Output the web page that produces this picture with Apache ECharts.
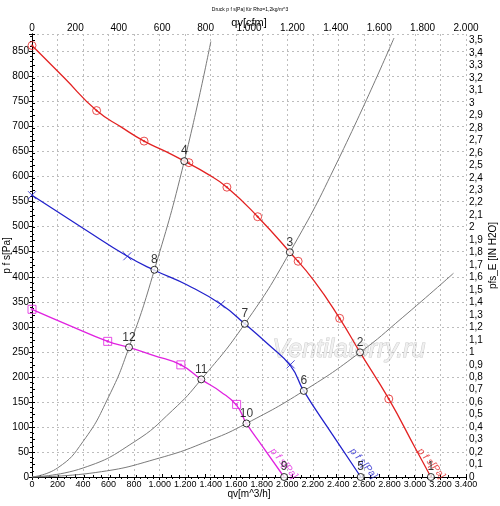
<!DOCTYPE html>
<html>
<head>
<meta charset="utf-8">
<script src="https://cdn.jsdelivr.net/npm/echarts@6/dist/echarts.min.js"></script>
<style>
html, body { margin: 0; padding: 0; background: #fff; }
#main { width: 500px; height: 506px; }
</style>
</head>
<body>
<div id="main"></div>
<script>
// 风机曲线 [qv m^3/h, p Pa]
var redCurve = [[0,862],[250,798],[506,732],[700,699],[878,671],[1050,650],[1193,631],[1370,606],[1527,579],[1768,520],[2020,449],[2210,392],[2410,317],[2570,249],[2795,156],[3000,59],[3125,0]];
var blueCurve = [[0,563],[400,497],[747,441],[959,413],[1220,383],[1480,345],[1667,306],[1850,265],[2026,222],[2129,172],[2350,86],[2576,0]];
var pinkCurve = [[0,335],[300,302],[593,271],[760,259],[950,243],[1166,224],[1326,195],[1480,170],[1603,143],[1680,107],[1800,63],[1975,0]];

// 曲线上的标记
var redMarks = [[0,862],[506,732],[878,671],[1229,628],[1527,579],[1768,520],[2085,431],[2410,317],[2795,156]];
var blueMarks = [[0,563],[747,441],[1480,345],[2026,225]];
var pinkMarks = [[0,335],[593,271],[1166,224],[1603,145]];

// 系统曲线 (灰色)
var sysCurve1 = [[0,0],[200,18],[400,71],[600,160],[760,259],[959,414],[1193,631],[1401,870]];
var sysCurve2 = [[0,0],[400,18],[800,70],[1100,133],[1326,195],[1667,306],[2020,449],[2400,634],[2836,877]];
var sysCurve3 = [[0,0],[500,9],[1000,38],[1400,74],[1680,107],[2129,172],[2570,249],[2900,318],[3302,407]];

// 工作点
var opNames = ['1','2','3','4','5','6','7','8','9','10','11','12'];
var opPoints = [[3125,0],[2570,249],[2020,449],[1193,631],[2575,0],[2129,172],[1667,306],[959,414],[1975,0],[1680,107],[1326,195],[760,259]];

// 曲线文字
var curveLabelText = 'p f s[Pa]';
var curveLabelPos = [[1972,27],[2597,27],[3127,27]];

var qMax = 3400, cfmMax = 2000, pMax = 885, paPerInH2O = 249.089;
var RED = '#e32222', BLUE = '#2222cc', PINK = '#e022e0', GRAY = '#7a7a7a';
var FONT = 'Liberation Sans';

function thousands(v) {
    v = Math.round(v);
    if (v < 1000) return String(v);
    var r = String(v % 1000);
    while (r.length < 3) r = '0' + r;
    return Math.floor(v / 1000) + '.' + r;
}

function lineSeries(data, color, w) {
    return {
        type: 'line', data: data, smooth: 0.5,
        symbol: 'none', silent: true, z: 3,
        lineStyle: { color: color, width: w }
    };
}

function markSeries(data, color, path, size) {
    return {
        type: 'scatter', data: data, symbol: path, symbolSize: size,
        silent: true, z: 4,
        itemStyle: { color: 'transparent', borderColor: color, borderWidth: 1 }
    };
}

var myChart = echarts.init(document.getElementById('main'));

var axisLabelStyle = { color: '#000', fontSize: 10, fontFamily: FONT };
var axisLineStyle = { lineStyle: { color: '#000', width: 1 } };

var option = {
    backgroundColor: '#fff',
    animation: false,
    title: {
        text: 'Druck p f s[Pa] für Rho=1,2kg/m^3',
        left: 'center', top: 2,
        textStyle: { fontSize: 5, fontWeight: 'normal', color: '#000', fontFamily: FONT }
    },
    grid: { left: 32, right: 34, top: 34, bottom: 29, outerBoundsMode: 'none', containLabel: false },
    xAxis: [{
        type: 'value', position: 'bottom', min: 0, max: qMax, interval: 200,
        name: 'qv[m^3/h]', nameLocation: 'middle', nameGap: 12, nameMoveOverlap: false,
        nameTextStyle: { color: '#000', fontSize: 10, fontFamily: FONT },
        axisLine: axisLineStyle,
        axisTick: { length: 3, lineStyle: { color: '#000' } },
        minorTick: { show: true, splitNumber: 4, length: 2, lineStyle: { color: '#000' } },
        axisLabel: { margin: 3, formatter: thousands, color: '#000', fontSize: 9, fontFamily: FONT },
        splitLine: { show: true, lineStyle: { color: '#bdbdbd', type: [2, 3] } }
    }, {
        type: 'value', position: 'top', min: 0, max: cfmMax, interval: 200,
        name: 'qv[cfm]', nameLocation: 'middle', nameGap: 6, nameMoveOverlap: false,
        nameTextStyle: { color: '#000', fontSize: 11, fontFamily: FONT },
        axisLine: axisLineStyle,
        axisTick: { length: 3, lineStyle: { color: '#000' } },
        minorTick: { show: true, splitNumber: 5, length: 2, lineStyle: { color: '#000' } },
        axisLabel: Object.assign({ margin: 1, formatter: thousands }, axisLabelStyle),
        splitLine: { show: false }
    }],
    yAxis: [{
        type: 'value', position: 'left', min: 0, max: pMax, interval: 50,
        name: 'p f s[Pa]', nameLocation: 'middle', nameGap: 20, nameRotate: 90, nameMoveOverlap: false,
        nameTextStyle: { color: '#000', fontSize: 10, fontFamily: FONT },
        axisLine: axisLineStyle,
        axisTick: { length: 3, lineStyle: { color: '#000' } },
        minorTick: { show: true, splitNumber: 5, length: 2, lineStyle: { color: '#000' } },
        axisLabel: Object.assign({ margin: 3, showMaxLabel: false }, axisLabelStyle),
        splitLine: { show: true, lineStyle: { color: '#bdbdbd', type: [2, 3] } }
    }, {
        type: 'value', position: 'right', min: 0, max: pMax / paPerInH2O, interval: 0.1,
        name: 'pfs_E [IN H2O]', nameLocation: 'middle', nameGap: 22, nameRotate: 90, nameMoveOverlap: false,
        nameTextStyle: { color: '#000', fontSize: 10, fontFamily: FONT },
        axisLine: axisLineStyle,
        axisTick: { length: 3, lineStyle: { color: '#000' } },
        minorTick: { show: true, splitNumber: 2, length: 2, lineStyle: { color: '#000' } },
        axisLabel: Object.assign({
            margin: 3, showMaxLabel: false,
            formatter: function(v) { return String(Number(v.toFixed(1))).replace('.', ','); }
        }, axisLabelStyle),
        splitLine: { show: false }
    }],
    graphic: [{
        type: 'text', left: 272, top: 337, z: -10, silent: true,
        style: {
            text: 'Ventilatorry.ru', fontSize: 25, fontStyle: 'italic', fontFamily: FONT,
            fill: '#f0f0f0', stroke: '#cccccc', lineWidth: 1
        }
    }],
    series: [
        lineSeries(sysCurve1, GRAY, 1),
        lineSeries(sysCurve2, GRAY, 1),
        lineSeries(sysCurve3, GRAY, 1),
        lineSeries(redCurve, RED, 1.3),
        lineSeries(blueCurve, BLUE, 1.3),
        lineSeries(pinkCurve, PINK, 1.3),
        markSeries(redMarks, RED, 'path://M5,0A5,5,0,1,1,5,10A5,5,0,1,1,5,0ZM5,4A1,1,0,1,1,5,6A1,1,0,1,1,5,4Z', 8),
        markSeries(blueMarks, BLUE, 'path://M0,0L10,10M10,0L0,10', 8),
        markSeries(pinkMarks, PINK, 'path://M0,0H10V10H0ZM4,4H6V6H4Z', 8),
        {
            type: 'scatter', silent: true, z: 6,
            symbol: 'circle', symbolSize: 7,
            itemStyle: { color: '#fff', borderColor: '#000', borderWidth: 1 },
            label: {
                show: true, position: 'top', distance: 0, formatter: '{b}',
                color: '#000', fontSize: 12, fontFamily: FONT
            },
            data: opPoints.map(function(p, i) { return { name: opNames[i], value: p }; })
        },
        {
            type: 'scatter', silent: true, z: 5, symbolSize: 0,
            data: curveLabelPos.map(function(p, i) {
                return {
                    value: p,
                    label: {
                        show: true, position: 'inside', rotate: -50, formatter: curveLabelText,
                        color: [PINK, BLUE, RED][i], fontSize: 10, fontStyle: 'italic', fontFamily: FONT
                    }
                };
            })
        }
    ]
};

myChart.setOption(option);
</script>
</body>
</html>
